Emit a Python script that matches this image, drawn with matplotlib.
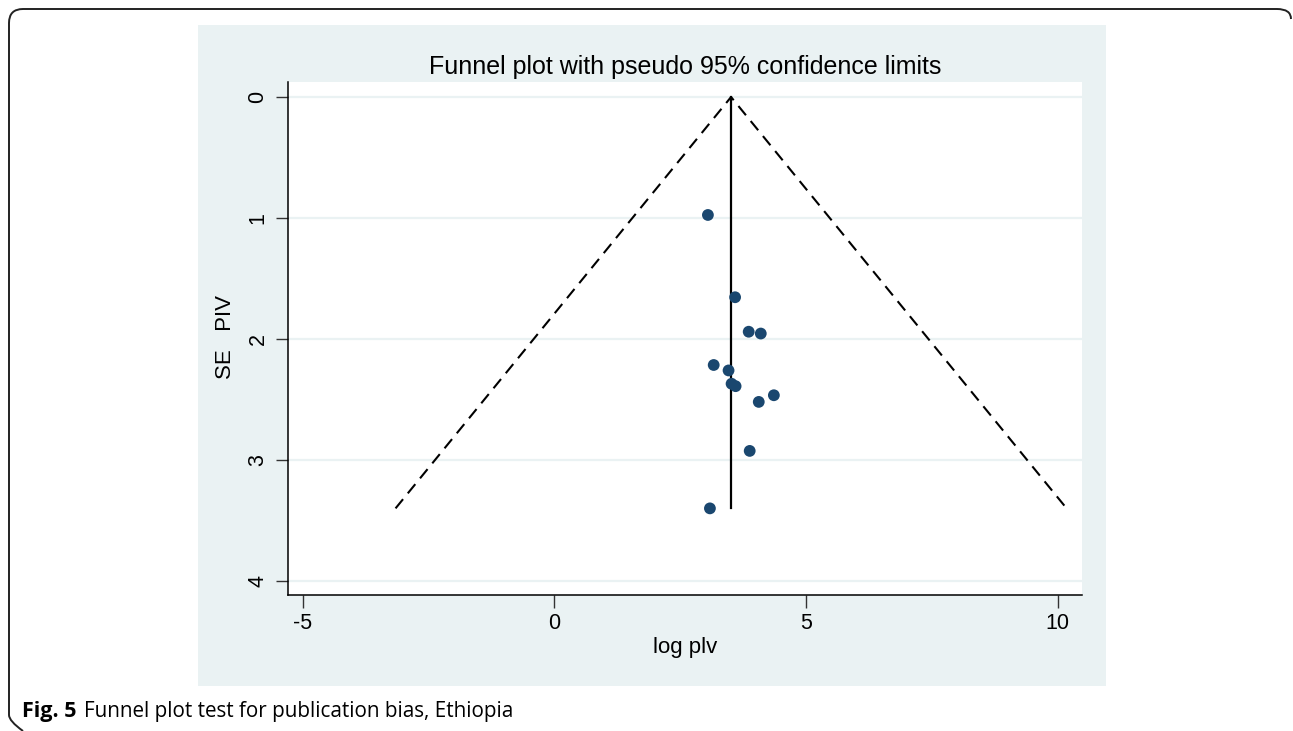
import matplotlib
matplotlib.use("Agg")
import matplotlib.pyplot as plt
from matplotlib.patches import Rectangle, PathPatch
from matplotlib.path import Path
import numpy as np

# Data
log_plv = [3.05, 3.59, 3.86, 4.10, 3.165, 3.46, 3.52, 3.60, 4.36, 4.06, 3.88, 3.09]
se_plv  = [0.975, 1.655, 1.94, 1.955, 2.215, 2.26, 2.37, 2.39, 2.465, 2.52, 2.925, 3.40]
pooled = 3.51
se_max = 3.40
z95 = 1.96
x_ticks = [-5, 0, 5, 10]
y_ticks = [0, 1, 2, 3, 4]

title = "Funnel plot with pseudo 95% confidence limits"
xlabel = "log plv"
ylabel = "SE   PIV"

plt.rcParams['font.family'] = ['Liberation Sans', 'DejaVu Sans']
plt.rcParams['axes.unicode_minus'] = False

W, H = 1293, 731
fig = plt.figure(figsize=(W/100, H/100), dpi=100)
fig.patch.set_facecolor("white")

bg = "#eaf2f3"
# gray (Stata) graph region
fig.patches.append(Rectangle((198/W, 1-686/H), 908/W, 661/H, transform=fig.transFigure,
                             facecolor=bg, edgecolor="none", zorder=-2))

ax = fig.add_axes([288/W, 1-595/H, 794/W, 513/H])
ax.set_facecolor("white")
ax.set_xlim(-5.29, 10.48)
ax.set_ylim(4.116, -0.124)

for yt in y_ticks:
    ax.axhline(yt, color=bg, lw=1.6, zorder=1)

# funnel lines
ax.plot([pooled - z95*se_max, pooled, pooled + z95*se_max], [se_max, 0, se_max],
        color="black", lw=1.5, linestyle=(0, (5.7, 3.6)), zorder=2)
ax.plot([pooled, pooled], [0, se_max], color="black", lw=1.6, zorder=2)

ax.scatter(log_plv, se_plv, s=72, color="#1a476f", edgecolors="none", zorder=3)

for s in ["top", "right"]:
    ax.spines[s].set_visible(False)
for s in ["left", "bottom"]:
    ax.spines[s].set_color("black")
    ax.spines[s].set_linewidth(1.1)

ax.set_xticks(x_ticks)
ax.set_yticks(y_ticks)
ax.tick_params(axis="both", direction="out", length=9, width=1, color="#333333",
               labelsize=15.5, pad=4)
ax.tick_params(axis="y", pad=5)
for lab in ax.get_yticklabels():
    lab.set_rotation(90)
    lab.set_va("center")

ax.set_title(title, fontsize=18, pad=6)
ax.set_xlabel(xlabel, fontsize=16, labelpad=2)
ax.set_ylabel(ylabel, fontsize=16)
ax.yaxis.set_label_coords(-0.0655, 0.503)

# outer rounded frame: left edge, top edge, start of top-right corner (pixel coords)
r = 14
xl, xr, yt, yb = 9, 1291, 9, 729
verts = [(xl + r, yb + 2), (xl, yb - r + 6), (xl, yb - r),
         (xl, yt + r), (xl, yt), (xl + r, yt),
         (xr - r, yt), (xr, yt), (xr, yt + 10)]
codes = [Path.MOVETO, Path.CURVE3, Path.CURVE3,
         Path.LINETO, Path.CURVE3, Path.CURVE3,
         Path.LINETO, Path.CURVE3, Path.CURVE3]
verts = [(x / W, 1 - y / H) for x, y in verts]
fig.patches.append(PathPatch(Path(verts, codes), transform=fig.transFigure,
                             facecolor="none", edgecolor="#222222", lw=1.4, zorder=-1))

fig.text(22/W, 1-712/H, "Fig. 5", fontsize=15.5, fontweight="bold",
         family=["Open Sans", "DejaVu Sans"], va="center", ha="left")
fig.text(84/W, 1-712/H, "Funnel plot test for publication bias, Ethiopia", fontsize=14.9,
         family=["Open Sans", "DejaVu Sans"], va="center", ha="left")

fig.savefig("out.png", dpi=100, facecolor="white")
